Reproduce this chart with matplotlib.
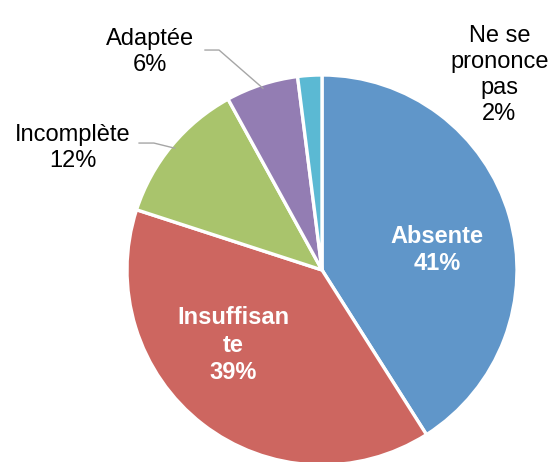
import numpy as np
import matplotlib
matplotlib.use("Agg")
from matplotlib import pyplot as plt

plt.rcParams['font.family'] = ['Liberation Sans', 'DejaVu Sans']

labels = ["Absente", "Insuffisan\nte", "Incomplète", "Adaptée", "Ne se\nprononce\npas"]
values = [41, 39, 12, 6, 2]
colors = ["#6096C9", "#CD6660", "#A9C46C", "#937DB3", "#5BB9D3"]

fig = plt.figure(figsize=(5.51, 4.62), dpi=100)
# pie centre at (322, 270) px, radius 195 px
R = 195.0
ax = fig.add_axes([(322 - R) / 551, (192 - R) / 462, 2 * R / 551, 2 * R / 462])

wedges, _ = ax.pie(values, colors=colors, startangle=90, counterclock=False,
                   radius=1.0, wedgeprops=dict(edgecolor="white", linewidth=2.4))
ax.set_xlim(-1, 1)
ax.set_ylim(-1, 1)
ax.axis("off")

fs = 17
txt = [f"{l}\n{v}%" for l, v in zip(labels, values)]

# labels inside
ax.text(0.59, 0.103, txt[0], color="white", fontsize=fs, fontweight="bold",
        ha="center", va="center", linespacing=1.2)
ax.text(-0.456, -0.385, txt[1], color="white", fontsize=fs, fontweight="bold",
        ha="center", va="center", linespacing=1.25)

# labels outside
ax.text(-1.277, 0.626, txt[2], fontsize=fs, ha="center", va="center", linespacing=1.2,
        clip_on=False)
ax.text(-0.882, 1.118, txt[3], fontsize=fs, ha="center", va="center", linespacing=1.2,
        clip_on=False)
ax.text(0.91, 1.0, txt[4], fontsize=fs, ha="center", va="center", linespacing=1.25,
        clip_on=False)

# leader lines from wedge midpoints
def mid_point(w, r=0.98):
    th = np.deg2rad((w.theta1 + w.theta2) / 2)
    return r * np.cos(th), r * np.sin(th)

leaders = {2: [(-0.938, 0.651), (-0.862, 0.651)],
           3: [(-0.6, 1.128), (-0.528, 1.128)]}
for i, pts in leaders.items():
    x0, y0 = mid_point(wedges[i])
    xs = [p[0] for p in pts] + [x0]
    ys = [p[1] for p in pts] + [y0]
    ax.plot(xs, ys, color="#A6A6A6", lw=1.0, clip_on=False)

fig.savefig("out.png", dpi=100)
